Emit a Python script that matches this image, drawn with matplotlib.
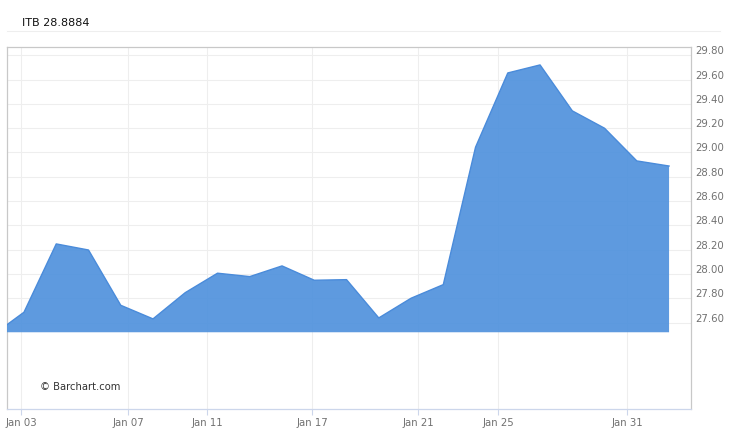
import matplotlib
matplotlib.use("Agg")
import matplotlib.pyplot as plt
import matplotlib.transforms as mtransforms
from matplotlib.lines import Line2D
import numpy as np

# ---- data ----
prices = [27.49, 27.685, 28.247, 28.197, 27.742, 27.63, 27.846, 28.006, 27.978,
          28.066, 27.948, 27.953, 27.638, 27.80, 27.912, 29.043, 29.654, 29.72,
          29.342, 29.199, 28.93, 28.888]
tick_labels = ["Jan 03", "Jan 07", "Jan 11", "Jan 17", "Jan 21", "Jan 25", "Jan 31"]
tick_pos = [0.907, 4.23, 6.67, 9.93, 13.22, 15.70, 19.70]
y_ticks = [27.60, 27.80, 28.00, 28.20, 28.40, 28.60, 28.80, 29.00, 29.20, 29.40, 29.60, 29.80]
title = "ITB 28.8884"
base_value = 27.52

plt.rcParams['font.family'] = ['DejaVu Sans']

fig = plt.figure(figsize=(7.5, 4.33), dpi=100)
ax = fig.add_axes([7/750, 1-409.3/433, (691-7)/750, (409.3-46.7)/433])

x = np.arange(len(prices))
ax.fill_between(x, base_value, prices, facecolor='#5092DD', alpha=0.92,
                edgecolor='none', zorder=3)
ax.plot(x, prices, color='#4A8BDA', lw=1.0, zorder=4)

ax.set_xlim(0.473, 21.68)
ax.set_ylim(26.886, 29.87)

# grid
for yv in y_ticks:
    ax.axhline(yv, color='#eeeeee', lw=0.8, zorder=1)
for xv in tick_pos:
    ax.axvline(xv, color='#eeeeee', lw=0.8, zorder=1)

# y axis on right
ax.yaxis.tick_right()
ax.set_yticks(y_ticks)
ax.set_yticklabels([f"{v:.2f}" for v in y_ticks])
ax.tick_params(axis='y', length=0, pad=3, labelsize=7.3, labelcolor='#707070')
off = mtransforms.ScaledTranslation(0, 5/100, fig.dpi_scale_trans)
for lab in ax.get_yticklabels():
    lab.set_transform(lab.get_transform() + off)

ax.set_xticks(tick_pos)
ax.set_xticklabels(tick_labels)
ax.tick_params(axis='x', length=4, width=0.8, color='#ccd6eb', pad=2,
               labelsize=7.3, labelcolor='#707070')

for side in ['left', 'top', 'right']:
    ax.spines[side].set_color('#c8c8c8')
    ax.spines[side].set_linewidth(0.9)
ax.spines['bottom'].set_color('#ccd6eb')
ax.spines['bottom'].set_linewidth(0.9)

ax.text(40/750, 1-387/433, "\u00a9 Barchart.com", transform=fig.transFigure,
        fontsize=7.2, color='#333333', va='center', ha='left')

fig.text(22/750, 1-23/433, title, fontsize=8, color='#111111', va='center', ha='left')
fig.add_artist(Line2D([7/750, 720/750], [1-31/433, 1-31/433], transform=fig.transFigure,
                      color='#eeeeee', lw=0.8))

fig.savefig("out.png", dpi=100)
